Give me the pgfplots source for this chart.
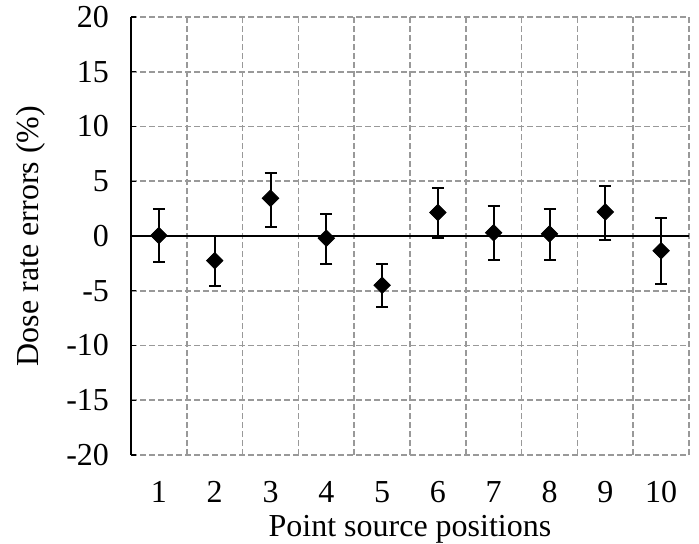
\documentclass[border=0pt]{standalone}
\usepackage{fontspec}
\setmainfont{Liberation Serif}
\usepackage{pgfplots}
\pgfplotsset{compat=1.18}

\pgfplotstableread{
x   y      ep    em
1   0.05   2.45  2.45
2  -2.25   2.25  2.35
3   3.45   2.35  2.60
4  -0.20   2.20  2.40
5  -4.50   1.90  2.00
6   2.15   2.20  2.35
7   0.30   2.40  2.50
8   0.20   2.30  2.40
9   2.20   2.35  2.60
10 -1.35   2.95  3.05
}\dosedata

\definecolor{gridgray}{HTML}{999999}

\begin{document}
\begin{tikzpicture}[font=\fontsize{16}{19}\selectfont]
\useasboundingbox (-65.5pt,-44pt) rectangle (284pt,227.5pt);
\begin{axis}[
    scale only axis,
    width=279pt, height=219pt,
    xmin=0.5, xmax=10.5,
    ymin=-20, ymax=20,
    axis x line*=bottom,
    axis y line*=left,
    x axis line style={draw=none},
    y axis line style={black, line width=0.7pt, -},
    ytick={-20,-15,...,20},
    xtick={1,...,10},
    minor xtick={0.5,1.5,...,10.5},
    xtick style={draw=none},
    ytick style={black, line width=0.7pt},
    tick align=inside,
    major tick length=2.5pt,
    ymajorgrids, xminorgrids,
    major grid style={gridgray, line width=0.8pt, dash pattern=on 3pt off 1.5pt},
    minor grid style={gridgray, line width=0.8pt, dash pattern=on 3pt off 1.5pt},
    extra y ticks={0},
    extra y tick labels={},
    extra y tick style={grid=major, major grid style={black, solid, line width=0.8pt}, tick style={draw=none}},
    /pgf/number format/assume math mode=true,
    yticklabel style={anchor=east, xshift=-7.5pt},
    xticklabel style={anchor=north, yshift=-9.5pt},
    xlabel={Point source positions},
    ylabel={Dose rate errors (\%)},
    xlabel style={at={(axis description cs:0.5,-0.17)}, anchor=center},
    ylabel style={at={(axis description cs:-0.18,0.5)}, anchor=center},
    clip=false,
]
\addplot[
    only marks,
    mark=square*,
    mark size=2.9pt,
    mark options={rotate=45, fill=black, draw=black},
    error bars/.cd,
        y dir=both, y explicit,
        error bar style={black, line width=1pt},
        error mark options={rotate=90, mark size=3pt, line width=1pt, black},
] table[x=x, y=y, y error plus=ep, y error minus=em] {\dosedata};
\end{axis}
\end{tikzpicture}
\end{document}
